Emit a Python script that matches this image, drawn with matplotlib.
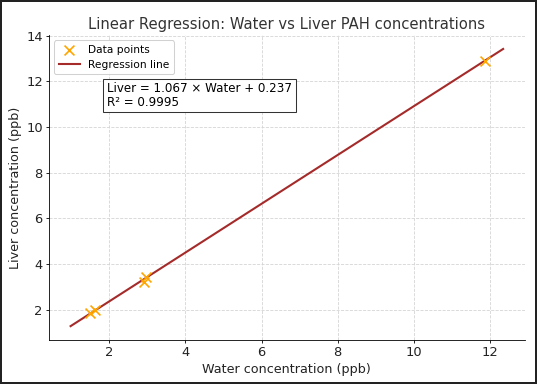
import numpy as np
import matplotlib.pyplot as plt

# Data
water = [1.5, 1.62, 2.9, 2.95, 11.88]
liver = [1.85, 1.98, 3.22, 3.45, 12.9]
slope = 1.067
intercept = 0.237
r_squared = 0.9995
line_x = [0.98, 12.35]


def main():
    fig = plt.figure(figsize=(7.16, 5.12), dpi=75,
                     edgecolor='#222222', linewidth=2)
    ax = fig.add_axes([0.0912, 0.1146, 0.886, 0.794])

    xs = np.array(line_x)
    ax.scatter(water, liver, marker='x', s=90, color='orange',
               linewidths=1.6, label='Data points', zorder=3)
    ax.plot(xs, slope * xs + intercept, color='#a52a2a', lw=2,
            label='Regression line', zorder=2)

    ax.set_title('Linear Regression: Water vs Liver PAH concentrations',
                 fontsize=14.2, color='#333333')
    ax.set_xlabel('Water concentration (ppb)', fontsize=12.2, color='#222222')
    ax.set_ylabel('Liver concentration (ppb)', fontsize=12.2, color='#222222')
    ax.tick_params(labelsize=12.5, labelcolor='#222222', length=3, pad=3)
    ax.grid(True, linestyle='--', color='#d5d5d5', linewidth=0.8)
    ax.spines['top'].set_visible(False)
    ax.spines['right'].set_visible(False)

    ax.legend(loc='upper left', fontsize=10.2, framealpha=0.9,
              edgecolor='#cccccc')
    ax.text(0.122, 0.845,
            f'Liver = {slope:.3f} \u00d7 Water + {intercept:.3f}\n'
            f'R\u00b2 = {r_squared:.4f}',
            transform=ax.transAxes, fontsize=11.4, va='top', ha='left',
            linespacing=1.05,
            bbox=dict(boxstyle='square,pad=0.3', facecolor='white',
                      edgecolor='#333333'))

    fig.savefig('out.png', dpi=75, edgecolor=fig.get_edgecolor())


if __name__ == '__main__':
    main()
